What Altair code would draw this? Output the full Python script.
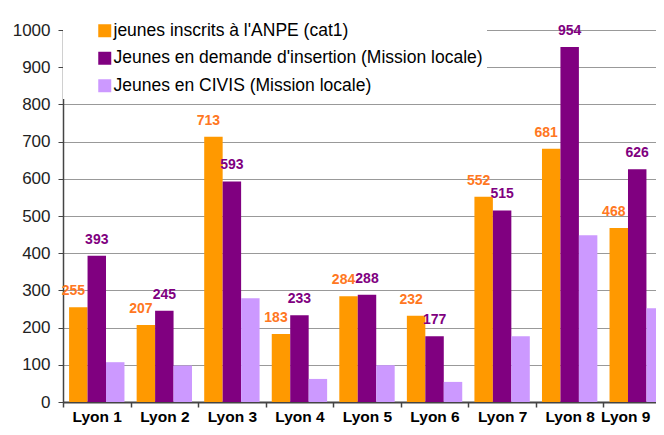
import altair as alt
import pandas as pd

districts = ["Lyon 1", "Lyon 2", "Lyon 3", "Lyon 4", "Lyon 5", "Lyon 6", "Lyon 7", "Lyon 8", "Lyon 9"]
series = [
    "jeunes inscrits à l'ANPE (cat1)",
    "Jeunes en demande d'insertion (Mission locale)",
    "Jeunes en CIVIS (Mission locale)",
]
anpe = [255, 207, 713, 183, 284, 232, 552, 681, 468]
insertion = [393, 245, 593, 233, 288, 177, 515, 954, 626]
civis = [107, 98, 279, 62, 99, 54, 177, 448, 252]
colors = ["#FF9900", "#800080", "#CC99FF"]
y_ticks = [0, 100, 200, 300, 400, 500, 600, 700, 800, 900, 1000]

rows = []
for i, d in enumerate(districts):
    for s, vals in zip(series, [anpe, insertion, civis]):
        rows.append({"district": d, "series": s, "value": vals[i]})
df = pd.DataFrame(rows)

FONT = "Liberation Sans"

x_enc = alt.X(
    "district:N",
    sort=districts,
    scale=alt.Scale(domain=districts, range=[0, 608], paddingInner=0, paddingOuter=0),
    axis=alt.Axis(
        title=None, labelAngle=0, labelFont=FONT, labelFontSize=15.5,
        labelFontWeight="bold", labelColor="black", labelPadding=2,
        labelOffset={"condition": {"test": "datum.value === 'Lyon 9'", "value": -12}, "value": 0},
        tickBand="extent", tickSize=5, tickColor="#444", tickWidth=1.5,
        domainColor="#444", domainWidth=2, grid=False,
    ),
)
xo = alt.XOffset("series:N", sort=series,
                 scale=alt.Scale(domain=series, paddingInner=0, paddingOuter=0.33))
y_enc = alt.Y(
    "value:Q",
    scale=alt.Scale(domain=[0, 1000], nice=False),
    axis=alt.Axis(
        title=None, values=y_ticks, format="d", labelFont=FONT, labelFontSize=17,
        labelColor="#222", labelPadding=8, tickSize=5, tickColor="#444",
        domainColor="#444", domainWidth=1.5, gridColor="#999", gridWidth=1,
    ),
)

bars = alt.Chart(df).mark_bar().encode(
    x=x_enc,
    xOffset=xo,
    y=y_enc,
    color=alt.Color(
        "series:N",
        sort=series,
        scale=alt.Scale(domain=series, range=colors),
        legend=alt.Legend(
            title=None, orient="none", legendX=0, legendY=-12, padding=4,
            fillColor="white", symbolType="square", symbolSize=169,
            symbolStrokeWidth=0, symbolOffset=29, labelOffset=0,
            labelFont=FONT, labelFontSize=17.5, labelColor="black",
            rowPadding=8.5, labelLimit=600,
            labelExpr="datum.label + '      '",
        ),
    ),
)

lab1 = alt.Chart(df).transform_filter(alt.datum.series == series[0]).mark_text(
    dy=-16, dx=-5, baseline="middle", font=FONT, fontSize=14,
    fontWeight="bold", color="#FF7722",
).encode(x=x_enc, xOffset=xo, y=y_enc, text="value:Q")

lab2 = alt.Chart(df).transform_filter(alt.datum.series == series[1]).mark_text(
    dy=-16, baseline="middle", font=FONT, fontSize=14,
    fontWeight="bold", color="#800080",
).encode(x=x_enc, xOffset=xo, y=y_enc, text="value:Q")

chart = alt.layer(bars, lab1, lab2).properties(
    width=593,
    height=372,
    autosize=alt.AutoSizeParams(type="none"),
    padding={"left": 55, "top": 22, "right": 0, "bottom": 25},
).configure_view(stroke=None)

chart.save("out.html", embed_options={"renderer": "svg", "actions": False})
